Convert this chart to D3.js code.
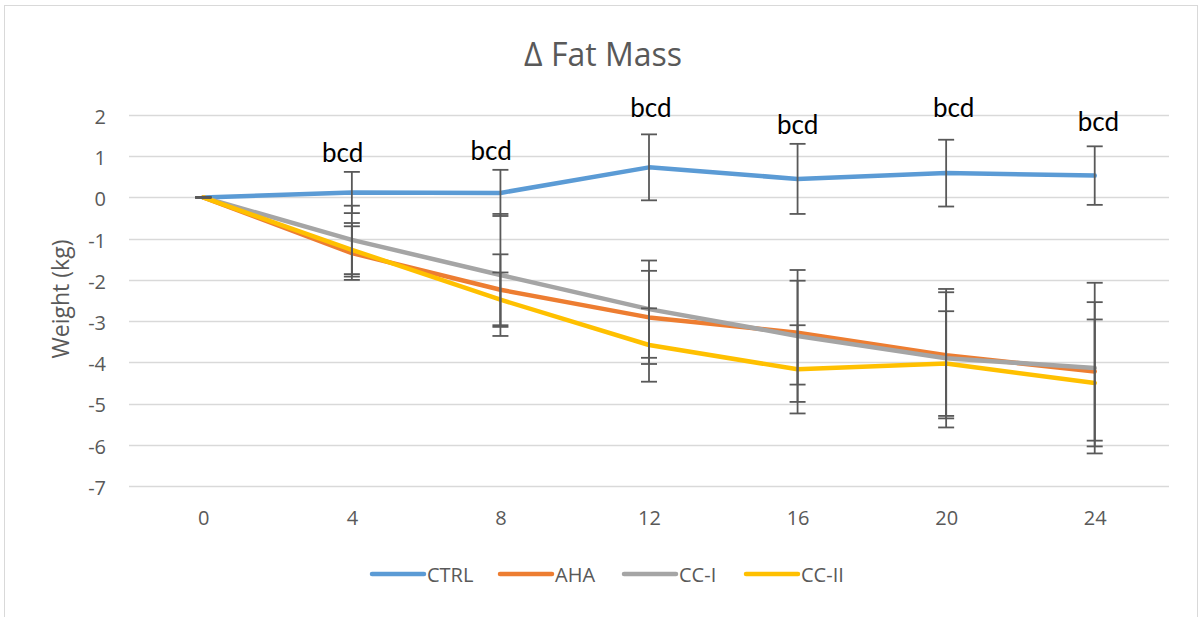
<!DOCTYPE html>
<html><head><meta charset="utf-8">
<script src="https://cdn.jsdelivr.net/npm/d3@7"></script>
<style>body{margin:0;background:#fff;}svg{display:block;}</style>
</head><body>
<script>
const weeks = ["0","4","8","12","16","20","24"];
const seriesNames = ["CTRL","AHA","CC-I","CC-II"];
const ctrl = [0, 0.12, 0.11, 0.73, 0.45, 0.59, 0.53];
const aha  = [0, -1.35, -2.24, -2.91, -3.28, -3.83, -4.22];
const cc1  = [0, -1.03, -1.88, -2.71, -3.36, -3.90, -4.14];
const cc2  = [0, -1.27, -2.48, -3.58, -4.17, -4.03, -4.50];
const ctrlSD = [0, 0.50, 0.56, 0.80, 0.85, 0.81, 0.71];
const ahaSD  = [0, 0.65, 0.86, 1.13, 1.26, 1.53, 1.68];
const cc1SD  = [0, 0.83, 1.48, 1.18, 1.60, 1.68, 2.07];
const cc2SD  = [0, 0.65, 0.66, 0.89, 1.07, 1.27, 1.54];
const yTicks = [2,1,0,-1,-2,-3,-4,-5,-6,-7];
const annText = ["","bcd","bcd","bcd","bcd","bcd","bcd"];
const annLevel = [null, 0.87, 0.9, 1.96, 1.55, 1.96, 1.6];
const annWeekShift = [0, -0.25, -0.25, 0.05, 0, 0.2, 0.1];
const colors = ["#5B9BD5","#ED7D31","#A5A5A5","#FFC000"];

const W=1202,H=617;
const svg=d3.select("body").append("svg").attr("width",W).attr("height",H);
const font="'Open Sans', 'Noto Sans', sans-serif";
const font2="Lato, 'Open Sans', sans-serif";
svg.append("rect").attr("x",4.5).attr("y",5.5).attr("width",1193).attr("height",640)
  .attr("fill","#fff").attr("stroke","#D9D9D9").attr("stroke-width",1);

const x=d3.scalePoint().domain(weeks).range([129,1169]).padding(0.5);
const y=d3.scaleLinear().domain([-7,2]).range([486,115]);
const pxPerWeek=x.step()/4;

// gridlines
svg.append("g").selectAll("line").data(yTicks).join("line")
  .attr("x1",129).attr("x2",1169).attr("y1",d=>Math.round(y(d))+0.5).attr("y2",d=>Math.round(y(d))+0.5)
  .attr("stroke","#D9D9D9").attr("stroke-width",1.3);

// y axis labels
const ya=svg.append("g").attr("transform","translate(106,2)")
  .call(d3.axisLeft(y).tickValues(yTicks).tickSize(0).tickPadding(0).tickFormat(d=>String(d)));
ya.select(".domain").remove();
ya.selectAll("text").attr("font-family",font).attr("font-size",20).attr("fill","#595959");

// x axis labels
const xa=svg.append("g").attr("transform","translate(0,511)")
  .call(d3.axisBottom(x).tickSize(0).tickPadding(0));
xa.select(".domain").remove();
xa.selectAll("text").attr("font-family",font).attr("font-size",20).attr("fill","#595959");

// title
svg.append("text").attr("x",603).attr("y",66).attr("text-anchor","middle")
  .attr("font-family",font).attr("font-size",32).attr("fill","#595959").text("Δ Fat Mass");
// y title
svg.append("text").attr("transform","translate(69,299) rotate(-90)").attr("text-anchor","middle")
  .attr("font-family",font).attr("font-size",23).attr("fill","#595959").text("Weight (kg)");

const vals=[ctrl,aha,cc1,cc2], sds=[ctrlSD,ahaSD,cc1SD,cc2SD];
const line=d3.line().x((d,i)=>x(weeks[i])).y(d=>y(d));
vals.forEach((v,k)=>{
  svg.append("path").datum(v).attr("d",line).attr("fill","none")
    .attr("stroke",colors[k]).attr("stroke-width",4.5)
    .attr("stroke-linejoin","round").attr("stroke-linecap","round");
});
// error bars
vals.forEach((v,k)=>{
  const g=svg.append("g").attr("stroke","#595959").attr("stroke-width",1.8);
  v.forEach((m,i)=>{
    const cx=x(weeks[i]), s=sds[k][i];
    const hi=y(m+s), lo=y(m-s);
    g.append("line").attr("x1",cx).attr("x2",cx).attr("y1",hi).attr("y2",lo);
    g.append("line").attr("x1",cx-8).attr("x2",cx+8).attr("y1",hi).attr("y2",hi);
    g.append("line").attr("x1",cx-8).attr("x2",cx+8).attr("y1",lo).attr("y2",lo);
  });
});
// annotations
const annIdx=d3.range(weeks.length).filter(i=>annLevel[i]!==null);
svg.append("g").selectAll("text").data(annIdx).join("text")
  .attr("x",i=>x(weeks[i])+annWeekShift[i]*pxPerWeek)
  .attr("y",i=>y(annLevel[i]))
  .attr("text-anchor","middle").attr("font-family",font2).attr("font-size",26).attr("fill","#000")
  .text(i=>annText[i]);

// legend
const legX=[370,498,622,744];
const lg=svg.append("g");
seriesNames.forEach((n,k)=>{
  lg.append("line").attr("x1",legX[k]+2).attr("x2",legX[k]+54).attr("y1",574).attr("y2",574)
    .attr("stroke",colors[k]).attr("stroke-width",4.5).attr("stroke-linecap","round");
  lg.append("text").attr("x",legX[k]+57).attr("y",582).attr("font-family",font)
    .attr("font-size",20).attr("fill","#595959").text(n);
});
</script>
</body></html>
